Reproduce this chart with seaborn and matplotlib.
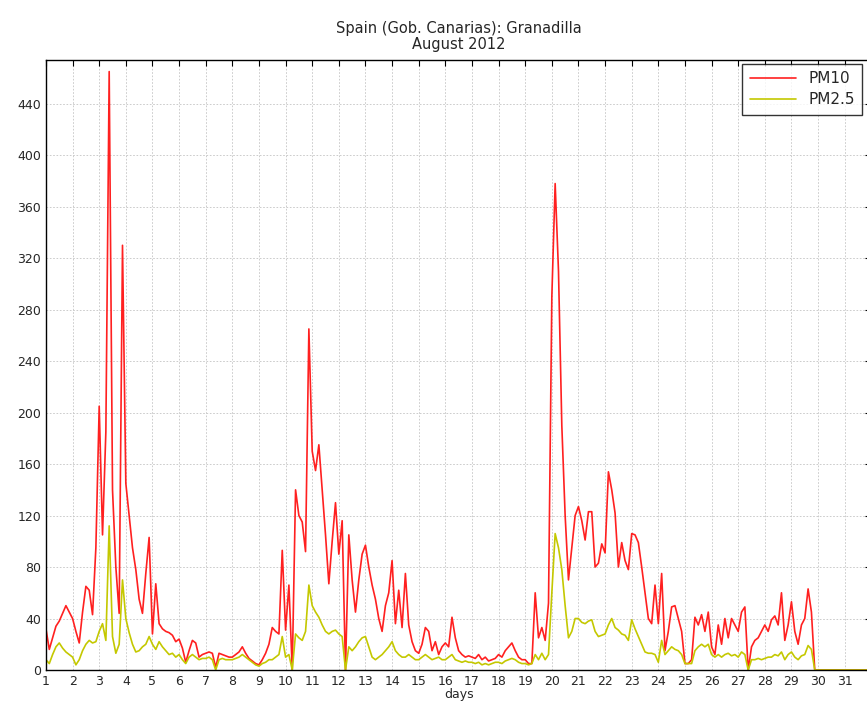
import numpy as np
import pandas as pd
import seaborn as sns
import matplotlib
matplotlib.use("Agg")
import matplotlib.pyplot as plt

# 3-hourly readings, day 1 00h .. day 32 00h
pm10 = [
    32, 16, 25, 34, 38, 44, 50, 45,        # day 1
    40, 30, 21, 45, 65, 62, 43, 95,        # day 2
    205, 105, 185, 465, 140, 80, 44, 330,  # day 3
    145, 120, 95, 78, 55, 44, 75, 103,     # day 4
    28, 67, 36, 32, 30, 29, 27, 22,        # day 5
    24, 17, 6, 15, 23, 21, 10, 12,         # day 6
    13, 14, 13, 2, 13, 12, 11, 10,         # day 7
    10, 12, 14, 18, 13, 9, 7, 5,           # day 8
    4, 8, 13, 20, 33, 30, 28, 93,          # day 9
    31, 66, 0, 140, 120, 115, 92, 265,     # day 10
    170, 155, 175, 140, 105, 67, 100, 130, # day 11
    90, 116, 0, 105, 70, 45, 70, 90,       # day 12
    97, 80, 66, 55, 40, 30, 50, 60,        # day 13
    85, 36, 62, 33, 75, 35, 22, 15,        # day 14
    13, 20, 33, 30, 15, 22, 12, 18,        # day 15
    21, 18, 41, 25, 15, 12, 10, 11,        # day 16
    10, 9, 12, 8, 10, 7, 8, 9,             # day 17
    12, 10, 15, 18, 21, 15, 10, 8,         # day 18
    8, 5, 5, 60, 25, 33, 23, 52,           # day 19
    290, 378, 310, 190, 120, 70, 95, 120,  # day 20
    127, 116, 101, 123, 123, 80, 83, 98,   # day 21
    91, 154, 140, 122, 80, 99, 85, 78,     # day 22
    106, 105, 99, 80, 60, 40, 36, 66,      # day 23
    36, 75, 15, 30, 49, 50, 40, 30,        # day 24
    5, 5, 8, 41, 35, 43, 30, 45,           # day 25
    18, 12, 35, 20, 40, 25, 40, 35,        # day 26
    30, 45, 49, 0, 18, 23, 25, 30,         # day 27
    35, 30, 39, 42, 35, 60, 23, 35,        # day 28
    53, 30, 20, 35, 40, 63, 45, 0,         # day 29
    0, 0, 0, 0, 0, 0, 0, 0,                # day 30
    0, 0, 0, 0, 0, 0, 0, 0,                # day 31
    0,
]

pm25 = [
    8, 5, 12, 18, 21, 17, 14, 12,          # day 1
    10, 4, 8, 15, 20, 23, 21, 22,          # day 2
    30, 36, 23, 112, 26, 13, 20, 70,       # day 3
    40, 29, 20, 14, 15, 18, 20, 26,        # day 4
    20, 16, 22, 18, 15, 12, 13, 10,        # day 5
    12, 8, 5, 10, 12, 10, 8, 9,            # day 6
    9, 10, 8, 0, 8, 9, 8, 8,               # day 7
    8, 9, 10, 12, 10, 8, 6, 4,             # day 8
    3, 5, 6, 8, 8, 10, 12, 26,             # day 9
    10, 12, 0, 28, 25, 23, 30, 66,         # day 10
    50, 45, 41, 35, 30, 28, 30, 31,        # day 11
    28, 26, 0, 18, 15, 18, 22, 25,         # day 12
    26, 18, 10, 8, 10, 12, 15, 18,         # day 13
    22, 15, 12, 10, 10, 12, 10, 8,         # day 14
    8, 10, 12, 10, 8, 9, 10, 8,            # day 15
    8, 10, 12, 8, 7, 6, 7, 6,              # day 16
    6, 5, 6, 4, 5, 4, 5, 6,                # day 17
    6, 5, 7, 8, 9, 8, 6, 5,                # day 18
    5, 4, 5, 12, 8, 13, 8, 12,             # day 19
    60, 106, 95, 78, 50, 25, 30, 40,       # day 20
    40, 37, 36, 38, 39, 30, 26, 27,        # day 21
    28, 35, 40, 33, 31, 28, 27, 23,        # day 22
    39, 32, 26, 20, 14, 13, 13, 12,        # day 23
    6, 23, 12, 15, 18, 16, 15, 12,         # day 24
    5, 5, 5, 15, 18, 20, 18, 20,           # day 25
    12, 10, 12, 10, 12, 13, 11, 12,        # day 26
    10, 14, 12, 0, 8, 8, 9, 8,             # day 27
    9, 10, 10, 12, 11, 14, 8, 12,          # day 28
    14, 10, 8, 11, 12, 19, 16, 0,          # day 29
    0, 0, 0, 0, 0, 0, 0, 0,                # day 30
    0, 0, 0, 0, 0, 0, 0, 0,                # day 31
    0,
]

day_ticks = list(range(1, 32))
y_ticks = list(range(0, 441, 40))

# time axis in days (3-hour steps starting at day 1)
days = 1 + np.arange(len(pm10)) / 8.0
df = pd.DataFrame({"days": days, "PM10": pm10, "PM2.5": pm25})

sns.set_style("white")
plt.rcParams["font.family"] = ["DejaVu Sans"]

fig = plt.figure(figsize=(8.67, 7.06), dpi=100)
ax = fig.add_axes([0.053, 0.051, 0.952, 0.864])

sns.lineplot(data=df, x="days", y="PM10", color="#ff2020", lw=1.2, label="PM10", ax=ax)
sns.lineplot(data=df, x="days", y="PM2.5", color="#c4c800", lw=1.2, label="PM2.5", ax=ax)

ax.set_xlim(1, 32)
ax.set_ylim(0, 474)
ax.set_xticks(day_ticks)
ax.set_yticks(y_ticks)
ax.tick_params(direction="in", top=True, right=True, labelsize=9, length=4, color="black")
ax.grid(True, color="#c4c4c4", linestyle=(0, (2, 2)), lw=0.6)
for s in ax.spines.values():
    s.set_color("black")
    s.set_linewidth(1.0)

ax.set_xlabel("days", fontsize=9, labelpad=0)
ax.set_ylabel("")
ax.set_title("Spain (Gob. Canarias): Granadilla\nAugust 2012", fontsize=10.5, linespacing=1.1, pad=8)

leg = ax.legend(loc="upper right", bbox_to_anchor=(0.989, 0.994), fontsize=11, fancybox=False,
                frameon=True, edgecolor="black", handlelength=3, borderaxespad=0,
                borderpad=0.5, labelspacing=0.4)
leg.get_frame().set_linewidth(1.0)

fig.savefig("out.png", dpi=100)
